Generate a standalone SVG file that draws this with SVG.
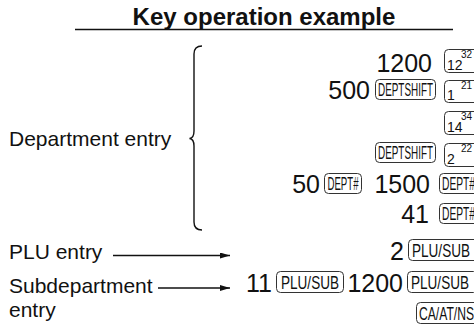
<svg xmlns="http://www.w3.org/2000/svg" width="474" height="331" viewBox="0 0 474 331">
<defs>
<style>
.t{font-family:"Liberation Sans",Arial,sans-serif;fill:#111}
.title{font-size:24px;font-weight:bold}
.lbl{font-size:21px}
.num{font-size:25px}
.key rect{fill:#fff;stroke:#333;stroke-width:1}
.kl{font-family:"Liberation Sans",Arial,sans-serif;font-size:17.5px;fill:#111}
.nk{font-family:"Liberation Sans",Arial,sans-serif;font-size:14px;fill:#111}
.sup{font-family:"Liberation Sans",Arial,sans-serif;font-size:10px;fill:#111}
.ln{fill:none;stroke:#111;stroke-width:1.4}
</style>
<marker id="ah" viewBox="0 0 10 6" refX="10" refY="3" markerWidth="10" markerHeight="6" markerUnits="userSpaceOnUse" orient="auto">
<path d="M0,0 L10,3 L0,6 Z" fill="#111"/>
</marker>
</defs>
<rect width="474" height="331" fill="#fff"/>
<g id="title">
<text class="t title" x="264" y="24.5" text-anchor="middle">Key operation example</text>
<line x1="75" y1="29.5" x2="453" y2="29.5" stroke="#111" stroke-width="1.5"/>
</g>
<g id="dept-label">
<text class="t lbl" x="9" y="146">Department entry</text>
</g>
<g id="plu-label">
<text class="t lbl" x="9" y="259">PLU entry</text>
</g>
<g id="subdept-label">
<text class="t lbl" x="9" y="293">Subdepartment</text>
<text class="t lbl" x="9" y="317">entry</text>
</g>
<g id="connectors">
<path class="ln" d="M202,46 Q194,46 194,54 L194,131 Q194,138 189.5,138.5 Q194,139 194,146 L194,222 Q194,230 202,230"/>
<line class="ln" x1="113" y1="255.5" x2="230" y2="255.5" marker-end="url(#ah)"/>
<line class="ln" x1="158" y1="288" x2="230" y2="288" marker-end="url(#ah)"/>
</g>
<g id="row1">
<text class="t num" x="432" y="72" text-anchor="end">1200</text>
<g class="key"><rect x="444.5" y="49.5" width="40" height="23" rx="4"/></g>
<text class="nk" x="447" y="70">12</text><text class="sup" x="461" y="58">32</text>
</g>
<g id="row2">
<text class="t num" x="370" y="99" text-anchor="end">500</text>
<g class="key"><rect x="375.5" y="79.5" width="60" height="20" rx="4"/></g>
<text class="kl" x="405.5" y="96" text-anchor="middle" textLength="55" lengthAdjust="spacingAndGlyphs">DEPTSHIFT</text>
<g class="key"><rect x="444.5" y="80.5" width="40" height="22" rx="4"/></g>
<text class="nk" x="447" y="100">1</text><text class="sup" x="461" y="89">21</text>
</g>
<g id="row3">
<g class="key"><rect x="444.5" y="111.5" width="40" height="23" rx="4"/></g>
<text class="nk" x="447" y="132">14</text><text class="sup" x="461" y="120">34</text>
</g>
<g id="row4">
<g class="key"><rect x="375.5" y="142.5" width="60" height="20" rx="4"/></g>
<text class="kl" x="405.5" y="159" text-anchor="middle" textLength="55" lengthAdjust="spacingAndGlyphs">DEPTSHIFT</text>
<g class="key"><rect x="444.5" y="143.5" width="40" height="23" rx="4"/></g>
<text class="nk" x="447" y="164">2</text><text class="sup" x="461" y="152">22</text>
</g>
<g id="row5">
<text class="t num" x="320" y="193" text-anchor="end">50</text>
<g class="key"><rect x="324.5" y="173.5" width="37" height="20" rx="4"/></g>
<text class="kl" x="343" y="190" text-anchor="middle" textLength="31" lengthAdjust="spacingAndGlyphs">DEPT#</text>
<text class="t num" x="430" y="193" text-anchor="end">1500</text>
<g class="key"><rect x="439.5" y="173.5" width="45" height="20" rx="4"/></g>
<text class="kl" x="442" y="190" textLength="33" lengthAdjust="spacingAndGlyphs">DEPT#</text>
</g>
<g id="row6">
<text class="t num" x="429" y="223" text-anchor="end">41</text>
<g class="key"><rect x="439.5" y="203.5" width="45" height="20" rx="4"/></g>
<text class="kl" x="442" y="220" textLength="33" lengthAdjust="spacingAndGlyphs">DEPT#</text>
</g>
<g id="row7">
<text class="t num" x="404" y="260" text-anchor="end">2</text>
<g class="key"><rect x="408.5" y="239.5" width="70" height="21" rx="4"/></g>
<text class="kl" x="412" y="256.5" textLength="58" lengthAdjust="spacingAndGlyphs">PLU/SUB</text>
</g>
<g id="row8">
<text class="t num" x="272" y="292" text-anchor="end">11</text>
<g class="key"><rect x="276.5" y="271.5" width="67" height="21" rx="4"/></g>
<text class="kl" x="310" y="288.5" text-anchor="middle" textLength="58" lengthAdjust="spacingAndGlyphs">PLU/SUB</text>
<text class="t num" x="403" y="292" text-anchor="end">1200</text>
<g class="key"><rect x="407.5" y="271.5" width="70" height="21" rx="4"/></g>
<text class="kl" x="411" y="288.5" textLength="58" lengthAdjust="spacingAndGlyphs">PLU/SUB</text>
</g>
<g id="row9">
<g class="key"><rect x="416.5" y="302.5" width="62" height="21" rx="4"/></g>
<text class="kl" x="419" y="319.5" textLength="55" lengthAdjust="spacingAndGlyphs">CA/AT/NS</text>
</g>
</svg>
